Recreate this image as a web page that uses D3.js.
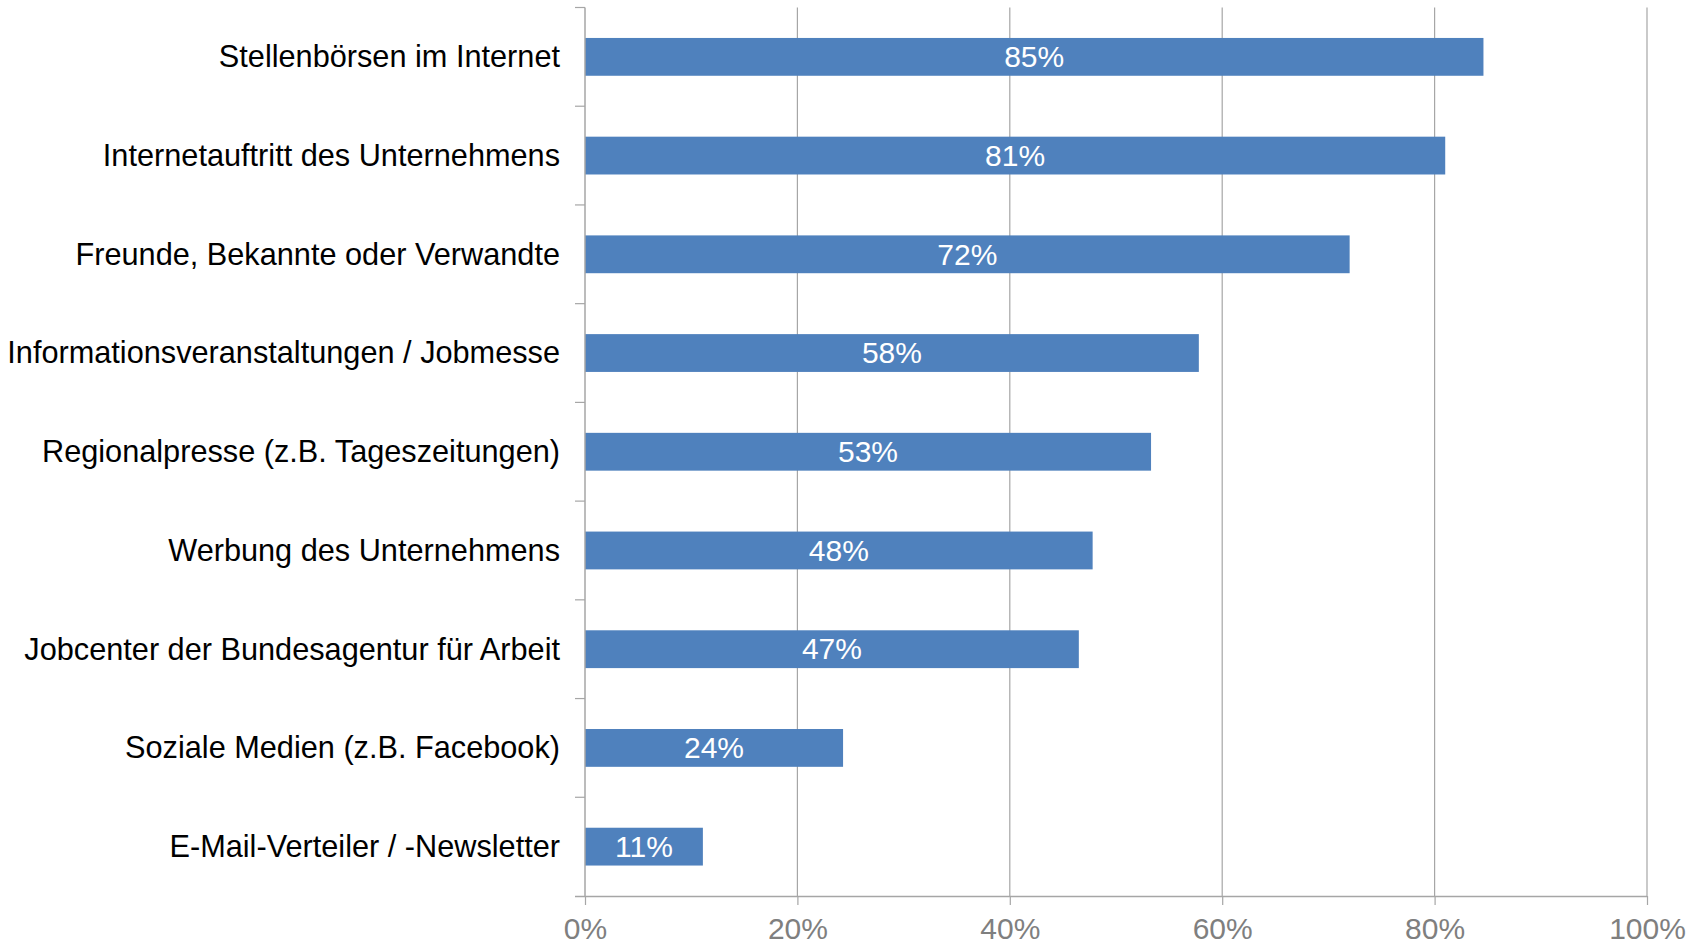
<!DOCTYPE html>
<meta charset="utf-8">
<style>
  body { margin: 0; background: #fff; }
  text { font-family: "Liberation Sans", Arial, sans-serif; }
</style>
<body>
<script src="https://d3js.org/d3.v7.min.js"></script>
<script>
// categories top to bottom
var categories = [
  "Stellenbörsen im Internet",
  "Internetauftritt des Unternehmens",
  "Freunde, Bekannte oder Verwandte",
  "Informationsveranstaltungen / Jobmesse",
  "Regionalpresse (z.B. Tageszeitungen)",
  "Werbung des Unternehmens",
  "Jobcenter der Bundesagentur für Arbeit",
  "Soziale Medien (z.B. Facebook)",
  "E-Mail-Verteiler / -Newsletter"
];
var values = [84.6, 81.0, 72.0, 57.8, 53.3, 47.8, 46.5, 24.3, 11.1];
var xTicks = [0, 20, 40, 60, 80, 100];

var width = 1695, height = 946;
var margin = {top: 7.5, right: 48, bottom: 50, left: 585};
var w = width - margin.left - margin.right,
    h = height - margin.top - margin.bottom;

var svg = d3.select("body").append("svg")
    .attr("width", width)
    .attr("height", height);

var g = svg.append("g")
    .attr("transform", "translate(" + margin.left + "," + margin.top + ")");

var x = d3.scaleLinear().domain([0, 100]).range([0, w]);
var y = d3.scaleBand().domain(categories).range([0, h]).paddingInner(0.617).paddingOuter(0.3085);

var data = categories.map(function(c, i) { return {cat: c, val: values[i]}; });

// gridlines
g.selectAll(".grid")
  .data(xTicks.slice(1))
  .enter().append("line")
    .attr("x1", d => x(d)).attr("x2", d => x(d))
    .attr("y1", 0).attr("y2", h)
    .attr("stroke", "#a6a6a6").attr("stroke-width", 1.2);

// bars
g.selectAll(".bar")
  .data(data)
  .enter().append("rect")
    .attr("x", x(0))
    .attr("y", d => y(d.cat))
    .attr("width", d => x(d.val) - x(0))
    .attr("height", y.bandwidth())
    .attr("fill", "#4f81bd");

// value labels
g.selectAll(".val")
  .data(data)
  .enter().append("text")
    .attr("x", d => x(d.val / 2))
    .attr("y", d => y(d.cat) + y.bandwidth() / 2)
    .attr("dy", "0.34em")
    .attr("text-anchor", "middle")
    .attr("fill", "#fff")
    .style("font-size", "30px")
    .text(d => Math.round(d.val) + "%");

// x axis
var xAxis = g.append("g")
    .attr("transform", "translate(0," + h + ")")
    .call(d3.axisBottom(x).tickValues(xTicks).tickSize(9).tickPadding(13)
      .tickFormat(d => d + "%"));
xAxis.select(".domain").attr("stroke", "#a6a6a6").attr("stroke-width", 1.5)
  .attr("d", "M-10,0.5H" + w);
xAxis.selectAll(".tick line").attr("stroke", "#a6a6a6").attr("stroke-width", 1.2);
xAxis.selectAll(".tick text").attr("fill", "#7f7f7f").style("font-size", "30px")
  .style("font-family", "'Liberation Sans', Arial, sans-serif");

// y axis with ticks at band boundaries
var yAxis = g.append("g");
yAxis.append("line")
    .attr("x1", 0).attr("x2", 0).attr("y1", 0).attr("y2", h)
    .attr("stroke", "#a6a6a6").attr("stroke-width", 1.5);
yAxis.selectAll(".ytick")
  .data(d3.range(categories.length))
  .enter().append("line")
    .attr("x1", -10).attr("x2", 0)
    .attr("y1", d => d * h / categories.length)
    .attr("y2", d => d * h / categories.length)
    .attr("stroke", "#a6a6a6").attr("stroke-width", 1.2);

yAxis.selectAll(".ylab")
  .data(categories)
  .enter().append("text")
    .attr("x", -25)
    .attr("y", d => y(d) + y.bandwidth() / 2)
    .attr("dy", "0.34em")
    .attr("text-anchor", "end")
    .attr("fill", "#000")
    .style("font-size", "30.7px")
    .text(d => d);
</script>
</body>
